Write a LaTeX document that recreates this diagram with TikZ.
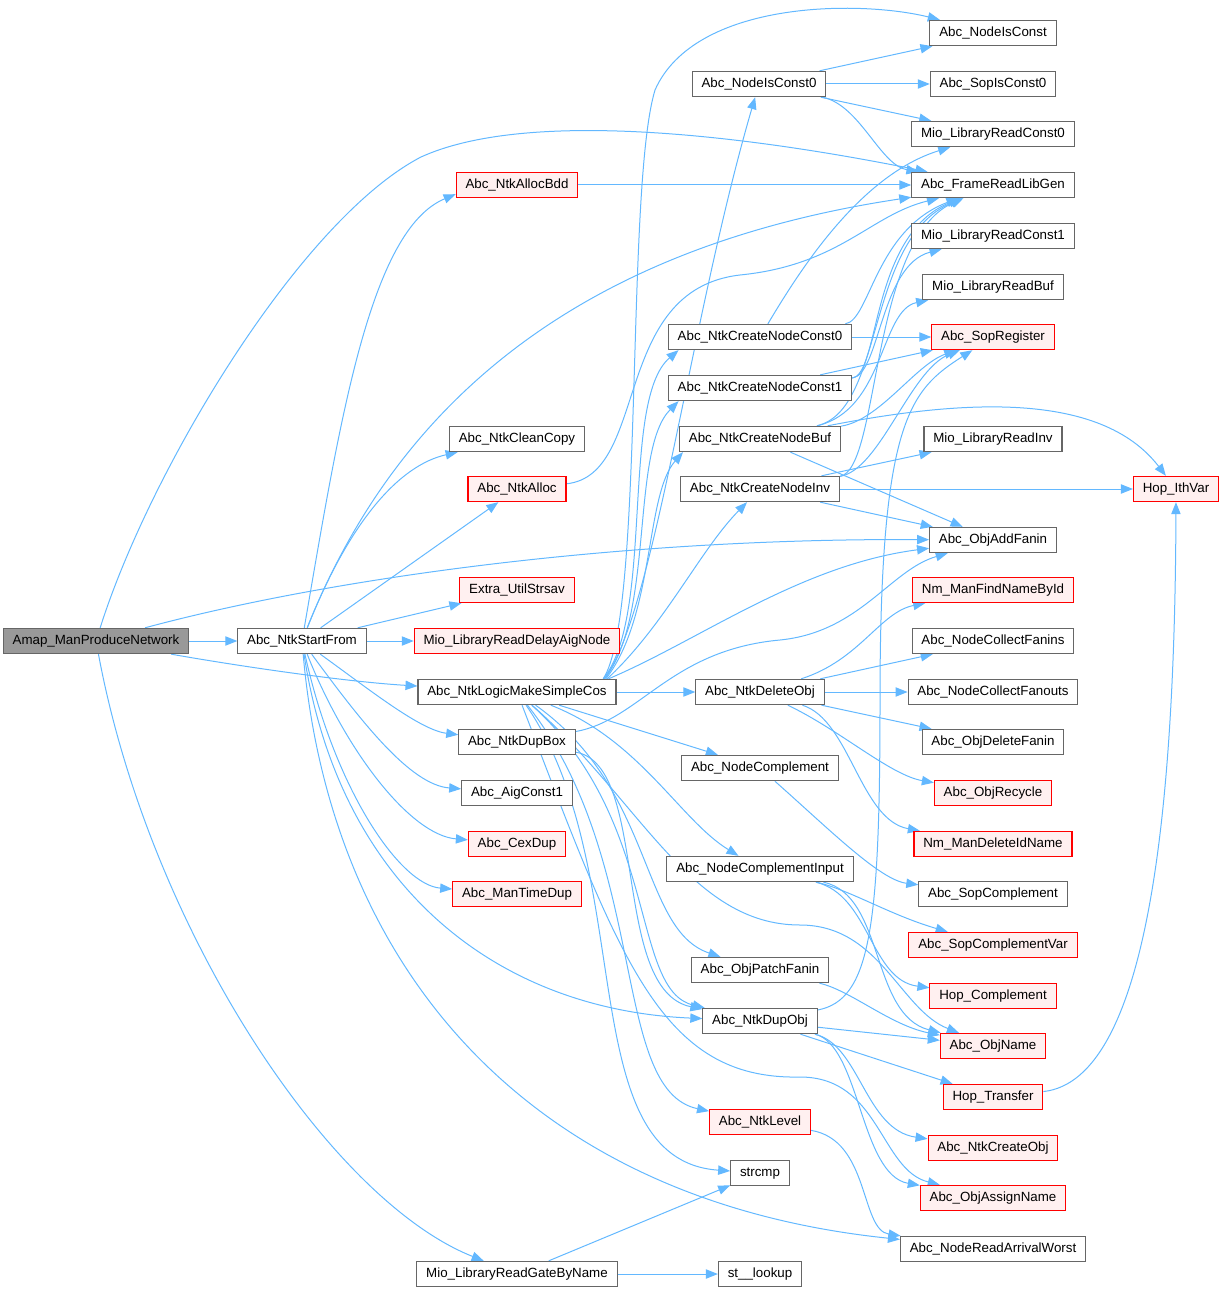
\documentclass[tikz,border=0pt]{standalone}
\usepackage{fontspec}
\setmainfont{Liberation Sans}
\usetikzlibrary{arrows.meta,backgrounds}
\definecolor{edgeblue}{RGB}{99,184,255}
\definecolor{boxgray}{RGB}{102,102,102}
\definecolor{rootfill}{RGB}{153,153,153}
\definecolor{redfill}{RGB}{255,240,240}
\tikzset{
  fn/.style={draw=boxgray, fill=white, line width=0.8pt, font=\fontsize{10}{12}\selectfont,
    inner xsep=7pt, inner ysep=0pt, minimum height=19pt, text height=7.5pt, text depth=2pt},
  fnred/.style={fn, draw=red, fill=redfill},
  fnroot/.style={fn, fill=rootfill},
  call/.style={draw=edgeblue, line width=0.75pt, -{Triangle[length=9pt,width=7pt]}}
}

\begin{document}
\begin{tikzpicture}[x=0.75pt,y=-0.75pt]
\useasboundingbox (0,0) rectangle (1225,1294);

\node[fnroot] (amap) at (96,641) {Amap\_ManProduceNetwork};
\node[fn] (startfrom) at (302,641) {Abc\_NtkStartFrom};
\node[fn] (gatebyname) at (517,1274) {Mio\_LibraryReadGateByName};

\node[fnred] (allocbdd) at (517,185) {Abc\_NtkAllocBdd};
\node[fn] (cleancopy) at (517,439) {Abc\_NtkCleanCopy};
\node[fnred] (ntkalloc) at (517,489) {Abc\_NtkAlloc};
\node[fnred] (strsav) at (517,590) {Extra\_UtilStrsav};
\node[fnred] (delayaig) at (517,641) {Mio\_LibraryReadDelayAigNode};
\node[fn] (logiccos) at (517,692) {Abc\_NtkLogicMakeSimpleCos};
\node[fn] (dupbox) at (517,742) {Abc\_NtkDupBox};
\node[fn] (aigconst) at (517,793) {Abc\_AigConst1};
\node[fnred] (cexdup) at (517,844) {Abc\_CexDup};
\node[fnred] (timedup) at (517,894) {Abc\_ManTimeDup};

\node[fn] (isconstz) at (759,84) {Abc\_NodeIsConst0};
\node[fn] (constz) at (760,337) {Abc\_NtkCreateNodeConst0};
\node[fn] (consto) at (760,388) {Abc\_NtkCreateNodeConst1};
\node[fn] (nodebuf) at (760,439) {Abc\_NtkCreateNodeBuf};
\node[fn] (nodeinv) at (760,489) {Abc\_NtkCreateNodeInv};
\node[fn] (deleteobj) at (760,692) {Abc\_NtkDeleteObj};
\node[fn] (nodecompl) at (760,768) {Abc\_NodeComplement};
\node[fn] (complinput) at (760,869) {Abc\_NodeComplementInput};
\node[fn] (patchfanin) at (760,970) {Abc\_ObjPatchFanin};
\node[fn] (dupobj) at (760,1021) {Abc\_NtkDupObj};
\node[fnred] (ntklevel) at (760,1122) {Abc\_NtkLevel};
\node[fn] (strcmp) at (760,1173) {strcmp};
\node[fn] (stlookup) at (760,1274) {st\_\_lookup};

\node[fn] (isconst) at (993,33) {Abc\_NodeIsConst};
\node[fn] (sopisconstz) at (993,84) {Abc\_SopIsConst0};
\node[fn] (readconstz) at (993,134) {Mio\_LibraryReadConst0};
\node[fn] (libgen) at (993,185) {Abc\_FrameReadLibGen};
\node[fn] (readconsto) at (993,236) {Mio\_LibraryReadConst1};
\node[fn] (readbuf) at (993,287) {Mio\_LibraryReadBuf};
\node[fnred] (sopreg) at (993,337) {Abc\_SopRegister};
\node[fn] (readinv) at (993,439) {Mio\_LibraryReadInv};
\node[fn] (addfanin) at (993,540) {Abc\_ObjAddFanin};
\node[fnred] (findname) at (993,590) {Nm\_ManFindNameById};
\node[fn] (collfanins) at (993,641) {Abc\_NodeCollectFanins};
\node[fn] (collfanouts) at (993,692) {Abc\_NodeCollectFanouts};
\node[fn] (delfanin) at (993,742) {Abc\_ObjDeleteFanin};
\node[fnred] (recycle) at (993,793) {Abc\_ObjRecycle};
\node[fnred] (deletename) at (993,844) {Nm\_ManDeleteIdName};
\node[fn] (sopcompl) at (993,894) {Abc\_SopComplement};
\node[fnred] (sopcomplvar) at (993,945) {Abc\_SopComplementVar};
\node[fnred] (hopcompl) at (993,996) {Hop\_Complement};
\node[fnred] (objname) at (993,1046) {Abc\_ObjName};
\node[fnred] (hoptransfer) at (993,1097) {Hop\_Transfer};
\node[fnred] (createobj) at (993,1148) {Abc\_NtkCreateObj};
\node[fnred] (assignname) at (993,1198) {Abc\_ObjAssignName};
\node[fn] (arrival) at (993,1249) {Abc\_NodeReadArrivalWorst};

\node[fnred] (ithvar) at (1176,489) {Hop\_IthVar};

\begin{scope}[on background layer]
\draw[call] (amap) -- (startfrom);
\draw[call] (amap) .. controls (250,668) and (350,682) .. (logiccos);
\draw[call] (amap) .. controls (150,470) and (300,220) .. (421,157) .. controls (520,112) and (720,130) .. (libgen);
\draw[call] (amap) .. controls (330,578) and (620,538) .. (addfanin);
\draw[call] (amap) .. controls (150,930) and (330,1200) .. (gatebyname);

\draw[call] (startfrom) .. controls (340,420) and (370,230) .. ([yshift=3pt]allocbdd.south west);
\draw[call] (startfrom) .. controls (390,420) and (560,250) .. (libgen);
\draw[call] (startfrom) .. controls (350,520) and (400,465) .. (cleancopy);
\draw[call] (startfrom) -- (ntkalloc);
\draw[call] (startfrom) -- (strsav);
\draw[call] (startfrom) -- (delayaig);
\draw[call] (startfrom) .. controls (370,690) and (420,730) .. (dupbox);
\draw[call] (startfrom) .. controls (360,720) and (410,785) .. (aigconst);
\draw[call] (startfrom) .. controls (345,750) and (410,835) .. (cexdup);
\draw[call] (startfrom) .. controls (335,790) and (400,885) .. (timedup);
\draw[call] (startfrom) .. controls (340,890) and (500,1010) .. (dupobj);
\draw[call] (startfrom) .. controls (330,960) and (520,1200) .. (arrival);

\draw[call] (allocbdd) -- (libgen);
\draw[call] (ntkalloc) .. controls (650,475) and (610,290) .. (740,275) .. controls (840,265) and (870,215) .. (libgen);

\draw[call] ([xshift=-10pt]logiccos.north east) .. controls (645,615) and (625,190) .. (655,90) .. controls (695,0) and (860,0) .. (isconst);
\draw[call] ([xshift=-9pt]logiccos.north east) .. controls (655,610) and (690,320) .. (isconstz);
\draw[call] ([xshift=-10pt]logiccos.north east) .. controls (655,615) and (620,400) .. ([xshift=8pt]constz.south west);
\draw[call] ([xshift=-9pt]logiccos.north east) .. controls (655,615) and (630,450) .. ([xshift=8pt]consto.south west);
\draw[call] ([xshift=-8pt]logiccos.north east) .. controls (655,615) and (645,495) .. ([xshift=3pt]nodebuf.south west);
\draw[call] ([xshift=-7pt]logiccos.north east) .. controls (665,625) and (700,550) .. (nodeinv);
\draw[call] ([xshift=-6pt]logiccos.north east) .. controls (700,640) and (800,565) .. (addfanin);
\draw[call] (logiccos) -- (deleteobj);
\draw[call] (logiccos) -- (nodecompl);
\draw[call] (logiccos) .. controls (640,740) and (680,820) .. (complinput);
\draw[call] (logiccos) .. controls (655,790) and (640,930) .. (patchfanin);
\draw[call] (logiccos) .. controls (660,820) and (630,990) .. (dupobj);
\draw[call] (logiccos) .. controls (650,860) and (610,1090) .. (ntklevel);
\draw[call] (logiccos) .. controls (640,870) and (570,1160) .. (strcmp);
\draw[call] (logiccos) .. controls (640,800) and (690,925) .. (800,925) .. controls (880,925) and (900,1010) .. (objname);
\draw[call] (logiccos) .. controls (620,960) and (660,1080) .. (800,1077) .. controls (880,1077) and (880,1170) .. (assignname);

\draw[call] (dupbox) .. controls (640,720) and (670,650) .. (780,640) .. controls (860,632) and (890,570) .. (addfanin);
\draw[call] (dupbox) .. controls (650,765) and (610,990) .. (dupobj);

\draw[call] (isconstz) -- (isconst);
\draw[call] (isconstz) -- (sopisconstz);
\draw[call] (isconstz) -- (readconstz);
\draw[call] (isconstz) .. controls (860,105) and (880,165) .. (libgen);

\draw[call] (constz) .. controls (800,270) and (860,175) .. (readconstz);
\draw[call] (constz) .. controls (870,320) and (875,230) .. (libgen);
\draw[call] (constz) -- (sopreg);
\draw[call] (consto) .. controls (880,375) and (870,235) .. (libgen);
\draw[call] (consto) .. controls (880,375) and (880,265) .. (readconsto);
\draw[call] (consto) -- (sopreg);

\draw[call] (nodebuf) .. controls (885,410) and (865,240) .. (libgen);
\draw[call] (nodebuf) .. controls (885,410) and (880,310) .. (readbuf);
\draw[call] (nodebuf) .. controls (880,420) and (915,365) .. (sopreg);
\draw[call] (nodebuf) .. controls (960,400) and (1100,390) .. (ithvar);
\draw[call] (nodebuf) -- (addfanin);
\draw[call] (nodeinv) .. controls (880,470) and (870,240) .. (libgen);
\draw[call] (nodeinv) .. controls (880,470) and (910,370) .. (sopreg);
\draw[call] (nodeinv) -- (readinv);
\draw[call] (nodeinv) -- (ithvar);
\draw[call] (nodeinv) -- (addfanin);

\draw[call] (deleteobj) .. controls (860,660) and (880,612) .. (findname);
\draw[call] (deleteobj) -- (collfanins);
\draw[call] (deleteobj) -- (collfanouts);
\draw[call] (deleteobj) -- (delfanin);
\draw[call] (deleteobj) .. controls (840,730) and (890,775) .. (recycle);
\draw[call] (deleteobj) .. controls (850,720) and (860,820) .. (deletename);

\draw[call] (nodecompl) .. controls (830,830) and (880,880) .. (sopcompl);
\draw[call] (complinput) .. controls (850,890) and (890,915) .. (sopcomplvar);
\draw[call] (complinput) .. controls (870,895) and (870,980) .. (hopcompl);
\draw[call] (complinput) .. controls (885,895) and (870,1015) .. (objname);
\draw[call] (patchfanin) .. controls (850,990) and (890,1025) .. (objname);

\draw[call] (dupobj) .. controls (870,1000) and (880,930) .. (880,700) .. controls (880,420) and (910,390) .. (sopreg);
\draw[call] (dupobj) -- (objname);
\draw[call] (dupobj) -- (hoptransfer);
\draw[call] (dupobj) .. controls (860,1045) and (865,1130) .. (createobj);
\draw[call] (dupobj) .. controls (860,1045) and (860,1175) .. (assignname);

\draw[call] (ntklevel) .. controls (870,1140) and (860,1230) .. (arrival);
\draw[call] (gatebyname) -- (strcmp);
\draw[call] (gatebyname) -- (stlookup);
\draw[call] (hoptransfer) .. controls (1150,1080) and (1175,800) .. (ithvar);
\end{scope}
\end{tikzpicture}
\end{document}
